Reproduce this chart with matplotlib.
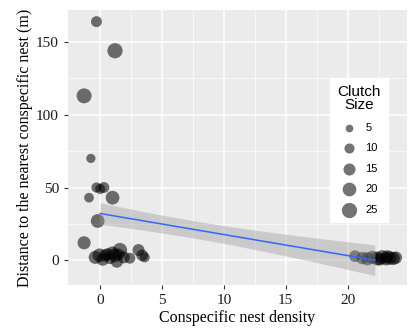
import numpy as np
import matplotlib.pyplot as plt

# nest density (jittered as drawn), distance to nearest nest (m), clutch size
density = [-0.3, 1.2, -1.3, -0.75, -0.3, 0.0, 0.3, -0.9, 1.0, -0.2, -1.3,
           -0.05, -0.4, 0.4, 0.8, 1.2, 1.35, 1.6, 1.9, 2.4, 3.1, 3.4, 3.6, 0.2, 1.0,
           0.6, 1.5,
           20.6, 21.2, 21.6, 22.0, 22.4, 22.8, 23.1, 23.4, 23.7, 23.9, 22.6, 23.2]
distance = [164, 144, 113, 70, 50, 49, 50, 43, 43, 27, 12,
            3.4, 2, 3.4, 1.4, 3.4, -1, 7, 2, 1.4, 7, 3.4, 2, 0.5, 5,
            4, 4,
            2.8, 1.5, 1.0, 2.0, 1.2, 2.2, 1.0, 1.6, 1.2, 1.8, 0.5, 2.5]
clutch = [12, 25, 24, 8, 10, 10, 12, 9, 20, 20, 18,
          20, 18, 15, 14, 20, 15, 22, 15, 12, 15, 14, 10, 16, 18,
          16, 14,
          14, 16, 18, 18, 20, 20, 18, 20, 18, 16, 15, 17]

legend_sizes = [5, 10, 15, 20, 25]
fit_range = (0, 22.2)

x = np.array(density)
y = np.array(distance)


def area(v):
    return 4.5 * np.asarray(v) + 8


# linear fit with confidence band
n = len(x)
b, a = np.polyfit(x, y, 1)
resid = y - (a + b * x)
s = np.sqrt(np.sum(resid ** 2) / (n - 2))
xs = np.linspace(fit_range[0], fit_range[1], 100)
ys = a + b * xs
se = s * np.sqrt(1 / n + (xs - x.mean()) ** 2 / np.sum((x - x.mean()) ** 2))
t = 1.0

fig = plt.figure(figsize=(4.17, 3.31), dpi=100)
ax = fig.add_axes([68 / 417, 46 / 331, 339 / 417, 275 / 331])
ax.set_facecolor("#EBEBEB")

ax.set_xlim(-2.6, 24.8)
ax.set_ylim(-17, 172)
ax.set_xticks([0, 5, 10, 15, 20])
ax.set_yticks([0, 50, 100, 150])
ax.set_xticks([2.5, 7.5, 12.5, 17.5, 22.5], minor=True)
ax.set_yticks([25, 75, 125], minor=True)
ax.grid(True, which="major", color="white", lw=1.1)
ax.grid(True, which="minor", color="white", lw=0.5)
ax.set_axisbelow(True)
for sp in ax.spines.values():
    sp.set_visible(False)

ax.tick_params(which="major", length=3, color="#333333", labelsize=11,
               labelcolor="#1a1a1a")
ax.tick_params(which="minor", length=0)
for lab in ax.get_xticklabels() + ax.get_yticklabels():
    lab.set_family("Liberation Serif")

ax.scatter(x, y, s=area(clutch), c="black", alpha=0.55, lw=0, zorder=3)

ax.fill_between(xs, ys - t * se, ys + t * se, color="#999999", alpha=0.4,
                lw=0, zorder=4)
ax.plot(xs, ys, color="#3366FF", lw=1.1, zorder=5)

ax.set_xlabel("Conspecific nest density", family="Liberation Serif",
              fontsize=11.5, labelpad=2)
ax.set_ylabel("Distance to the nearest conspecific nest (m)",
              family="Liberation Serif", fontsize=11.5, labelpad=2)

handles = [ax.scatter([], [], s=area(v), c="black", alpha=0.55, lw=0)
           for v in legend_sizes]
leg = ax.legend(handles, [str(v) for v in legend_sizes], title="Clutch\nSize",
                loc="upper left", bbox_to_anchor=(262 / 339, 1 - 68 / 275),
                frameon=True, fancybox=False, edgecolor="white",
                facecolor="white", framealpha=1, labelspacing=0.95,
                handlelength=1.6, handletextpad=0.7, borderpad=0.65,
                borderaxespad=0,
                prop={"family": "Liberation Sans", "size": 8},
                title_fontproperties={"family": "Liberation Sans", "size": 11})
leg.get_title().set_multialignment("center")
leg.get_title().set_linespacing(0.9)

fig.savefig("out.png", dpi=100)
